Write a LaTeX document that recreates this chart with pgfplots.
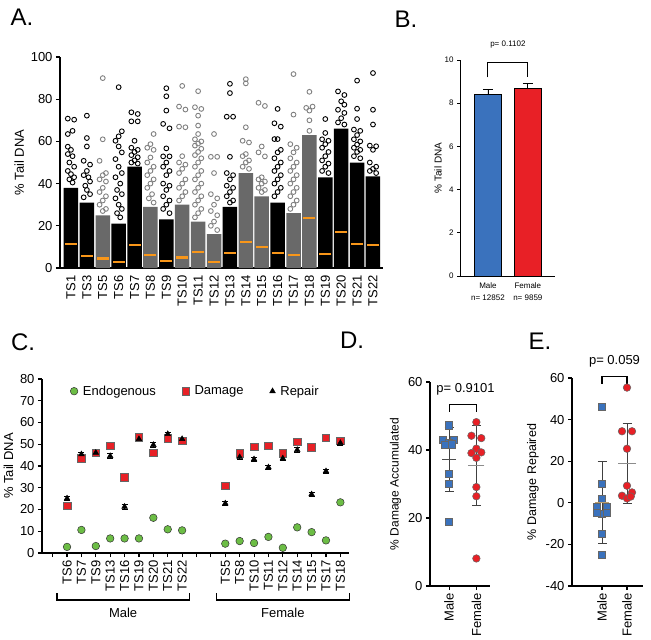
\documentclass[border=0pt]{standalone}
\usepackage{fontspec}
\setmainfont{Liberation Sans}
\usepackage{pgfplots}
\pgfplotsset{compat=1.18}
\definecolor{pblue}{RGB}{58,114,189}
\definecolor{pred}{RGB}{232,32,38}
\definecolor{pgreen}{RGB}{108,189,69}
\definecolor{fgray}{RGB}{105,105,105}
\definecolor{cgray}{RGB}{128,128,128}
\definecolor{medorange}{RGB}{248,150,25}
\definecolor{meantan}{RGB}{190,160,110}

\pgfplotsset{
  prism/.style={
    scale only axis, clip=false, anchor=south west,
    axis lines=left, axis line style={-, line width=1.1pt},
    tick style={line width=1.1pt, black},
    tick align=outside, major tick length=4pt,
    /pgf/number format/assume math mode=true,
    tick label style={font=\fontsize{13}{15}\selectfont},
    label style={font=\fontsize{13}{15}\selectfont},
  },
  blk/.style={only marks, mark=o, mark size=2.4pt, mark options={line width=0.9pt, black}},
  gry/.style={only marks, mark=o, mark size=2.4pt, mark options={line width=0.9pt, cgray}},
}

\begin{document}
\begin{tikzpicture}
\path[use as bounding box] (0pt,0pt) rectangle (651pt,-640pt);

% panel letters
\node[font=\fontsize{24}{26}\selectfont] at (22pt,-17pt) {A.};
\node[font=\fontsize{24}{26}\selectfont] at (406pt,-19pt) {B.};
\node[font=\fontsize{24}{26}\selectfont] at (23pt,-342pt) {C.};
\node[font=\fontsize{24}{26}\selectfont] at (352pt,-340pt) {D.};
\node[font=\fontsize{24}{26}\selectfont] at (540pt,-341pt) {E.};

% ---------------- A ----------------
\begin{axis}[prism, at={(60pt,-268pt)}, width=323pt, height=211pt,
  xmin=0.31, xmax=20.63, ymin=0, ymax=100, ytick={0,20,...,100},
  xtick={1,...,20},
  xticklabels={TS1,TS3,TS5,TS6,TS7,TS8,TS9,TS10,TS11,TS12,TS13,TS14,TS15,TS16,TS17,TS18,TS19,TS20,TS21,TS22},
  xticklabel style={rotate=90, anchor=east},
  xtick style={draw=none},
  ylabel={\% Tail DNA}]
% dense part of each column
\addplot[ybar, bar shift=0pt, bar width=14.5pt, fill=black, draw=none]
  coordinates {(1,38)(2,31)(4,21)(5,48)(7,23)(11,29)(14,31)(17,43)(18,66)(19,50)(20,43.4)};
\addplot[ybar, bar shift=0pt, bar width=14.5pt, fill=fgray, draw=none]
  coordinates {(3,25)(6,29)(8,30)(9,22)(10,16)(12,45)(13,34)(15,26)(16,63)};
% male outliers
\addplot[blk] coordinates {
  (0.8,70.8)(1.2,70.3)(0.8,63.5)(1.1,65)(0.8,57.5)(1.0,56)(0.8,54)(1.1,53)(0.9,50)(1.2,48)(0.8,46)(1.0,44.5)(1.2,43)(0.9,42)(1.1,40.5)
  (2,72.2)(2,61.6)(2,57.6)(1.8,50.8)(2.2,49)(2,46)(1.8,44)(2.1,43)(2.2,41)(1.9,39)(2,37)(2.2,35)(1.8,33.5)
  (4,85.7)(4.2,64.8)(4,62.4)(3.8,60.3)(4,57.6)(4.2,54.8)(3.8,51.6)(4,48)(4.2,45)(3.8,43)(4.1,40)(3.9,37)(4.2,35)(3.8,33)(4,30)(4.2,28)(3.9,26)(4.1,24)
  (4.8,73.8)(5.2,73)(4.8,69.5)(5.2,69.5)(5,60.3)(4.8,57)(5.2,56)(5,55)(4.8,53.5)(5.2,52.5)(5,51)(4.8,50)(5.2,49.5)
  (7,85.2)(7,81.4)(7,74.6)(6.8,68.3)(7.2,66.2)(7,56.7)(6.8,52.9)(7.2,52.9)(7,50)(6.8,48)(7.2,46)(7,44)(6.8,40)(7.2,39)(7,37)(6.8,34)(7.2,32)(7,30)(6.8,28)(7.2,26)
  (11,87.3)(11,82.9)(10.8,71.7)(11.2,71.7)(11,52.7)(10.8,45)(11.2,44)(11,42)(10.8,39)(11.2,38)(11,36)(10.8,34)(11.2,32)(11,31)
  (14,75.4)(13.8,68.6)(14.2,67)(14,61.1)(13.8,61.1)(14.2,56)(14,54.8)(13.8,52)(14.2,50)(14,48)(13.8,46)(14.2,44)(14,42)(13.8,40)(14.2,38)(14,36)(13.8,34)
  (17,70.6)(17,64)(16.8,61)(17.2,60.3)(17,58.7)(16.8,57)(17.2,55)(17,53)(16.8,51)(17.2,49.5)(17,48)(16.8,46)(17.2,45)
  (17.8,83.7)(18.2,82)(18,79)(18.2,77.4)(17.8,75)(18.2,73.5)(18,71)(17.8,69)(18.2,68)
  (19,88.8)(19,75.5)(19,70.6)(18.8,65.6)(19.2,65)(19,63)(18.8,61)(19.2,60)(19,58.5)(18.8,57)(19.2,56)(19,55)(18.8,53)(19.2,52)
  (20,92.4)(20,75)(20,68)(19.8,58)(20.2,57.7)(20,56)(19.8,50)(20.2,48)(20,47)(19.8,46)(20.2,45)
};
% female outliers
\addplot[gry] coordinates {
  (3,90)(3,61)(2.8,50.8)(3.2,45)(3,44)(2.8,42)(3.2,41)(3,38)(2.8,36)(3.2,34)(3,32)(2.8,30)(3.2,28)(3,27)
  (6.2,63.5)(6,58.7)(5.8,57)(6.2,56)(6,52.4)(5.8,50)(6.2,48)(6,46)(5.8,44)(6.2,42)(6,40)(5.8,38)(6.1,35)(5.9,33)(6.2,31)
  (8,86.3)(7.8,76.5)(8.2,75.1)(7.8,67)(8.2,66.7)(8,53)(7.8,50)(8.2,49)(8,47)(7.8,45)(8.2,42)(8,40)(7.8,38)(8.2,36)(8,34)(7.8,32)
  (9,83.8)(8.8,76.2)(9.2,75.4)(9,72.2)(9,67.5)(9,63.5)(8.8,61)(9.2,60)(9,59)(8.8,58)(9.2,56.5)(9,55)(8.8,53.5)(9.2,52)(9,50)(8.8,48)(9.2,46)(9,44)(8.8,42)(9.2,40)(9,38)(8.8,36)(9.2,34)(9,32)(8.8,30)(9.2,28)(9,26)(8.8,24)
  (10,63.5)(9.8,52.7)(10.2,52.7)(10,45)(9.8,35)(10.2,33)(10,30)(9.8,27)(10.2,25)(10,22)(9.8,20)(10.2,18)
  (12,89.5)(12,87.5)(12,66.7)(11.8,60.3)(12.2,59.5)(12,54)(11.8,53)(12.2,51)(12,50)(11.8,48)(12.2,47)
  (12.8,78.3)(13.2,76.8)(13,57.6)(12.8,54.8)(13.2,52.9)(13,43)(12.8,42)(13.2,41)(13,40)(12.8,38)(13.2,37)(13,36)
  (15,91.9)(15,72.7)(14.8,58.7)(15.2,57)(15,54.8)(14.8,52)(15.2,50)(15,48)(14.8,46)(15.2,44)(15,42)(14.8,40)(15.2,38)(15,36)(14.8,34)(15.2,32)(15,30)(14.8,28)
  (16,83.5)(15.8,75.9)(16.2,76.5)(16,74.6)(16,70)(16,65)
};
% medians
\addplot[only marks, mark=-, mark size=6pt, mark options={line width=2.2pt, medorange}]
  coordinates {(1,11.5)(2,5.5)(3,4.5)(4,3)(5,11)(6,6)(7,3.5)(8,5)(9,7.5)(10,3)
               (11,7)(12,12.5)(13,10)(14,7)(15,6)(16,23.7)(17,6.8)(18,16.9)(19,11.4)(20,10.9)};
\end{axis}

% ---------------- B ----------------
\begin{axis}[prism, at={(460pt,-276pt)}, width=95pt, height=216pt,
  xmin=0.3, xmax=2.68, ymin=0, ymax=10, ytick={0,2,...,10},
  axis line style={line width=0.8pt}, tick style={line width=0.8pt}, major tick length=3pt,
  xtick={1,2},
  xticklabels={{Male\\[3pt]n= 12852},{Female\\[3pt]n= 9859}},
  xticklabel style={align=center},
  xtick style={draw=none},
  tick label style={font=\fontsize{8}{9}\selectfont},
  ylabel={\% Tail DNA}, label style={font=\fontsize{10}{12}\selectfont},
  ylabel shift=-4pt]
\addplot[ybar, bar shift=0pt, bar width=27pt, fill=pblue, draw=black, line width=0.8pt,
  error bars/.cd, y dir=plus, y explicit,
  error bar style={line width=0.8pt, black},
  error mark options={rotate=90, mark size=5pt, line width=0.8pt, black}]
  coordinates {(1,8.43) +- (0,0.2)};
\addplot[ybar, bar shift=0pt, bar width=27pt, fill=pred, draw=black, line width=0.8pt,
  error bars/.cd, y dir=plus, y explicit,
  error bar style={line width=0.8pt, black},
  error mark options={rotate=90, mark size=5pt, line width=0.8pt, black}]
  coordinates {(2,8.68) +- (0,0.25)};
\draw[line width=0.9pt] (axis cs:1,9.2) -- (axis cs:1,9.9) -- (axis cs:2,9.9) -- (axis cs:2,9.2);
\node[font=\fontsize{8}{9}\selectfont] at (axis cs:1.5,10.7) {p= 0.1102};
\end{axis}

% ---------------- C ----------------
\begin{axis}[prism, at={(42pt,-553pt)}, width=307pt, height=174pt,
  xmin=-0.74, xmax=20.6, ymin=0, ymax=80, ytick={0,10,...,80},
  xtick={0,...,20},
  xticklabels={,TS6,TS7,TS9,TS13,TS16,TS19,TS20,TS21,TS22,,,TS5,TS8,TS10,TS11,TS12,TS14,TS15,TS17,TS18},
  xticklabel style={rotate=90, anchor=east},
  ylabel={\% Tail DNA},
  legend columns=3,
  legend style={draw=none, fill=none, at={(0.5,0.93)}, anchor=center,
    font=\fontsize{13}{15}\selectfont,
    /tikz/every odd column/.append style={column sep=3pt},
    /tikz/every even column/.append style={column sep=24pt}}]
\addplot[only marks, mark=*, mark size=3.8pt, mark options={fill=pgreen, draw=black!80, line width=0.5pt}]
  coordinates {(1,2.8)(2,10.6)(3,3.2)(4,6.7)(5,6.7)(6,6.7)(7,16.2)(8,10.9)(9,10.4)
               (12,4.3)(13,5.5)(14,4.6)(15,7.4)(16,2.4)(17,11.8)(18,9.6)(19,5.8)(20,23.3)};
\addlegendentry{Endogenous}
\addplot[only marks, mark=square*, mark size=3.8pt, mark options={fill=pred, draw=black!60, line width=0.6pt}]
  coordinates {(1,21.7)(2,43.5)(3,46)(4,49.2)(5,34.9)(6,53.2)(7,46.1)(8,52.7)(9,51.5)
               (12,30.9)(13,45.8)(14,48.9)(15,49.2)(16,45.8)(17,51.2)(18,48.6)(19,53)(20,51.5)};
\addlegendentry{Damage}
\addplot[only marks, mark=triangle*, mark size=3.3pt, mark options={fill=black, draw=black},
  error bars/.cd, y dir=both, y explicit,
  error bar style={line width=0.7pt, black},
  error mark options={rotate=90, mark size=3pt, line width=0.7pt, black}]
  coordinates {(1,25.1)+-(0,1)(2,45.4)+-(0,1)(3,46.1)+-(0,1)(4,44.6)+-(0,1)(5,21.3)+-(0,1)
               (6,52.4)+-(0,1)(7,49.7)+-(0,1)(8,54.7)+-(0,1)(9,52.4)+-(0,1)
               (12,22.8)+-(0,1)(13,44.1)+-(0,1)(14,43.1)+-(0,1)(15,39.4)+-(0,1)(16,43.5)+-(0,1)
               (17,47.4)+-(0,1)(18,27)+-(0,1)(19,37.6)+-(0,1)(20,50.6)+-(0,1)};
\addlegendentry{Repair}
\draw[line width=1.1pt] (axis cs:0.3,-18.4) -- (axis cs:0.3,-21.6) -- (axis cs:9.54,-21.6) -- (axis cs:9.54,-18.4);
\draw[line width=1.1pt] (axis cs:11.4,-18.4) -- (axis cs:11.4,-21.6) -- (axis cs:20.65,-21.6) -- (axis cs:20.65,-18.4);
\node[font=\fontsize{13}{15}\selectfont] at (axis cs:4.9,-27.6) {Male};
\node[font=\fontsize{13}{15}\selectfont] at (axis cs:16,-27.6) {Female};
\end{axis}

% ---------------- D ----------------
\begin{axis}[prism, at={(430pt,-586pt)}, width=60pt, height=204pt,
  xmin=0.3, xmax=2.5, ymin=0, ymax=60, ytick={0,20,40,60},
  xtick={1,2}, xticklabels={Male,Female},
  xticklabel style={rotate=90, anchor=east},
  ylabel={\% Damage Accumulated}, label style={font=\fontsize{12}{14}\selectfont}]
\addplot[only marks, mark=square*, mark size=3.6pt, mark options={fill=pblue, draw=black!60, line width=0.5pt}]
  coordinates {(1,47.3)(0.78,42.9)(1.18,42.9)(1,42.2)(0.86,41.5)(1.1,41.7)(1,33.1)(1,30.1)(1,18.8)};
\addplot[only marks, mark=*, mark size=3.8pt, mark options={fill=pred, draw=black!60, line width=0.5pt}]
  coordinates {(2,48.2)(1.82,44.2)(2.18,43.5)(2,40.4)(1.82,39.1)(2.18,39.3)(2,37.7)(2,29.1)(2,26.4)(2,8.1)};
\addplot[only marks, mark=-, mark size=7pt, mark options={line width=1.2pt, black!70},
  error bars/.cd, y dir=both, y explicit,
  error bar style={line width=1pt, black!75},
  error mark options={rotate=90, mark size=4.5pt, line width=1pt, black!75}]
  coordinates {(1,37.3)+-(0,9.4)};
\addplot[only marks, mark=-, mark size=8pt, mark options={line width=1.2pt, black!45},
  error bars/.cd, y dir=both, y explicit,
  error bar style={line width=1pt, black!75},
  error mark options={rotate=90, mark size=4.5pt, line width=1pt, black!75}]
  coordinates {(2,35.5)+-(0,11.8)};
\draw[line width=1.1pt] (axis cs:1,51.2) -- (axis cs:1,53.4) -- (axis cs:2,53.4) -- (axis cs:2,51.2);
\node[font=\fontsize{13}{15}\selectfont] at (axis cs:1.6,57.8) {p= 0.9101};
\end{axis}

% ---------------- E ----------------
\begin{axis}[prism, at={(572pt,-586pt)}, width=71pt, height=208pt,
  xmin=-0.2, xmax=2.64, ymin=-40, ymax=60, ytick={-40,-20,...,60},
  xtick={1,2}, xticklabels={Male,Female},
  xticklabel style={rotate=90, anchor=east},
  ylabel={\% Damage Repaired}, label style={font=\fontsize{12.5}{14}\selectfont}]
\addplot[only marks, mark=square*, mark size=3.6pt, mark options={fill=pblue, draw=black!60, line width=0.5pt}]
  coordinates {(1,46.1)(1,9)(1,2.1)(0.8,-1.9)(1.2,-1.9)(1,-5.1)(0.8,-4.8)(1.2,-4.8)(1,-15)(1,-25.1)};
\addplot[only marks, mark=*, mark size=3.8pt, mark options={fill=pred, draw=black!60, line width=0.5pt}]
  coordinates {(2,55.4)(1.8,34.4)(2.2,34.4)(2,26)(2,8.2)(1.8,3.4)(2.2,5)(2,2.1)(2.15,3)};
\addplot[only marks, mark=-, mark size=7pt, mark options={line width=1.2pt, meantan},
  error bars/.cd, y dir=both, y explicit,
  error bar style={line width=1pt, black!75},
  error mark options={rotate=90, mark size=4.5pt, line width=1pt, black!75}]
  coordinates {(1,0.3)+-(0,19.7)};
\addplot[only marks, mark=-, mark size=9pt, mark options={line width=1.2pt, black!45},
  error bars/.cd, y dir=both, y explicit,
  error bar style={line width=1pt, black!75},
  error mark options={rotate=90, mark size=4.5pt, line width=1pt, black!75}]
  coordinates {(2,18.9)+-(0,19)};
\draw[line width=1.1pt] (axis cs:1,57.3) -- (axis cs:1,60.8) -- (axis cs:2,60.8) -- (axis cs:2,57.3);
\node[font=\fontsize{13}{15}\selectfont] at (axis cs:1.5,68) {p= 0.059};
\end{axis}
\end{tikzpicture}
\end{document}
